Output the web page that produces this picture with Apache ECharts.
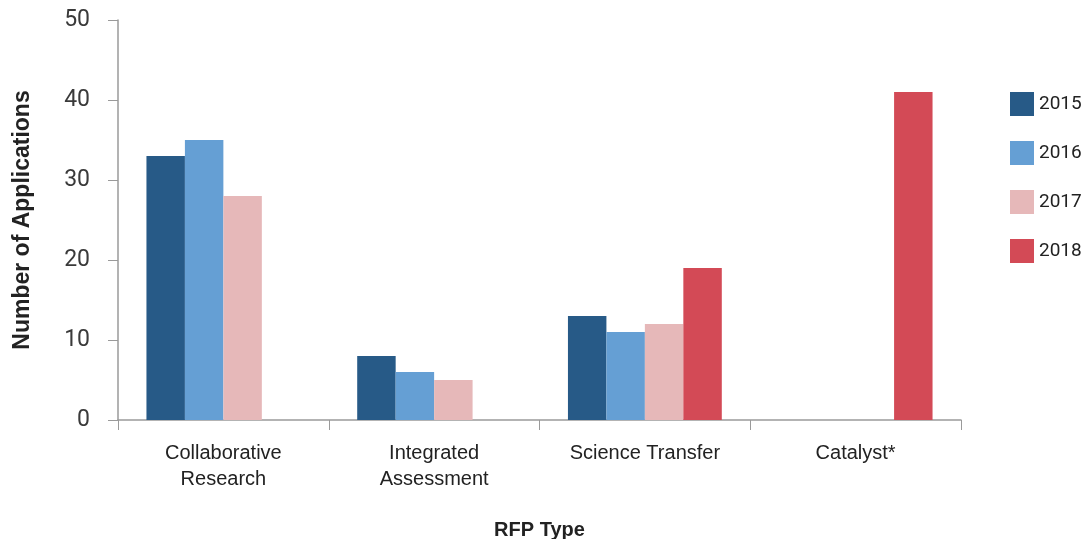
<!DOCTYPE html>
<html>
<head>
<meta charset="utf-8">
<script src="https://cdn.jsdelivr.net/npm/echarts@6/dist/echarts.min.js"></script>
<style>
  html, body { margin: 0; padding: 0; background: #fff; }
  #chart { width: 1085px; height: 539px; }
</style>
</head>
<body>
<div id="chart"></div>
<script>
// RFP types and the number of applications received per year
const categories = ['Collaborative\nResearch', 'Integrated\nAssessment', 'Science Transfer', 'Catalyst*'];
const years = ['2015', '2016', '2017', '2018'];
const apps2015 = [33, 8, 13, null];
const apps2016 = [35, 6, 11, null];
const apps2017 = [28, 5, 12, null];
const apps2018 = [null, null, 19, 41];
const yTicks = [0, 10, 20, 30, 40, 50];

const colors = ['#275A87', '#659FD4', '#E6B8B9', '#D34A56'];
const seriesValues = [apps2015, apps2016, apps2017, apps2018];
const sans = "'Liberation Sans', Arial, sans-serif";

const chart = echarts.init(document.getElementById('chart'));
chart.setOption({
  animation: false,
  color: colors,
  grid: { left: 118, right: 124, top: 20, bottom: 119, containLabel: false, outerBoundsMode: 'none' },
  legend: {
    orient: 'vertical',
    left: 1010,
    top: 92,
    padding: 0,
    itemWidth: 24,
    itemHeight: 24,
    itemGap: 25,
    icon: 'rect',
    data: years,
    textStyle: { fontFamily: 'Roboto', fontSize: 19, color: '#222' }
  },
  xAxis: {
    type: 'category',
    data: categories,
    name: 'RFP Type',
    nameLocation: 'middle',
    nameGap: 100,
    nameTextStyle: { fontFamily: sans, fontWeight: 'bold', fontSize: 20, color: '#222' },
    axisLine: { lineStyle: { color: '#9a9a9a', width: 1.5 } },
    axisTick: { show: true, length: 10, lineStyle: { color: '#9a9a9a' } },
    axisLabel: { margin: 20, fontFamily: sans, fontSize: 20, color: '#222', lineHeight: 26 }
  },
  yAxis: {
    type: 'value',
    min: yTicks[0],
    max: yTicks[yTicks.length - 1],
    interval: 10,
    name: 'Number of Applications',
    nameLocation: 'middle',
    nameGap: 84,
    nameTextStyle: { fontFamily: sans, fontWeight: 'bold', fontSize: 23, color: '#222' },
    axisLine: { show: true, lineStyle: { color: '#9a9a9a', width: 1.5 } },
    axisTick: { show: true, length: 10, lineStyle: { color: '#9a9a9a' } },
    splitLine: { show: false },
    axisLabel: { margin: 28, fontFamily: 'Roboto', fontWeight: 'normal', fontSize: 23, color: '#3a3a3a' }
  },
  series: years.map((y, i) => ({
    name: y,
    type: 'bar',
    data: seriesValues[i],
    barGap: '0%',
    barCategoryGap: '27%',
    itemStyle: { color: colors[i] }
  }))
});
</script>
</body>
</html>
